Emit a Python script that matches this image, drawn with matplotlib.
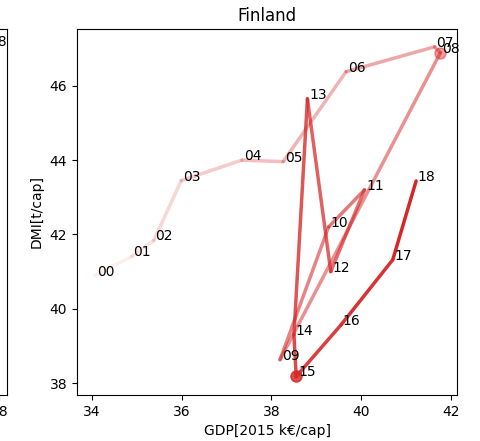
import numpy as np
import matplotlib
matplotlib.use("Agg")
import matplotlib.pyplot as plt

# Finland: GDP vs DMI per capita, 2000-2018
years = ['00', '01', '02', '03', '04', '05', '06', '07', '08', '09',
         '10', '11', '12', '13', '14', '15', '16', '17', '18']
gdp = [34.07, 34.89, 35.38, 35.99, 37.34, 38.26, 39.66, 41.63, 41.76, 38.19,
       39.27, 40.07, 39.32, 38.80, 38.50, 38.55, 39.55, 40.70, 41.22]
dmi = [40.89, 41.41, 41.84, 43.45, 44.00, 43.96, 46.38, 47.05, 46.89, 38.63,
       42.20, 43.20, 41.00, 45.65, 39.30, 38.18, 39.57, 41.32, 43.44]

red = '#d62728'

fig = plt.figure(figsize=(4.8, 4.41), dpi=100)

# neighbouring subplot, mostly outside the crop
ax0 = fig.add_axes([-0.777, 0.1043, 0.7917, 0.830])
ax0.set_xlim(0, 1)
ax0.set_ylim(0, 1)
ax0.set_xticks([0.98])
ax0.set_xticklabels(['38'])
ax0.set_yticks([])
ax0.text(0.998, 0.965, '08', fontsize=10, ha='right', va='center')

ax = fig.add_axes([0.1604, 0.1043, 0.7917, 0.830])

n = len(years)
for i in range(n - 1):
    a = 0.08 + 0.92 * i / (n - 2)
    ax.plot(gdp[i:i + 2], dmi[i:i + 2], color=red, alpha=a, lw=2.5,
            solid_capstyle='round')

# dots at max GDP and min DMI
imax = int(np.argmax(gdp))
imin = int(np.argmin(dmi))
ax.plot(gdp[imax], dmi[imax], 'o', color=red, alpha=0.08 + 0.92 * (imax - 1) / (n - 2), ms=8)
ax.plot(gdp[imin], dmi[imin], 'o', color=red, alpha=0.08 + 0.92 * (imin - 1) / (n - 2), ms=8)

for x, y, t in zip(gdp, dmi, years):
    ax.text(x + 0.04, y, t, fontsize=10)

ax.set_xlim(33.67, 42.13)
ax.set_ylim(37.68, 47.53)
ax.set_xticks([34, 36, 38, 40, 42])
ax.set_yticks([38, 40, 42, 44, 46])
ax.set_title('Finland')
ax.set_xlabel('GDP[2015 k€/cap]')
ax.set_ylabel('DMI[t/cap]')

fig.savefig('out.png', dpi=100)
